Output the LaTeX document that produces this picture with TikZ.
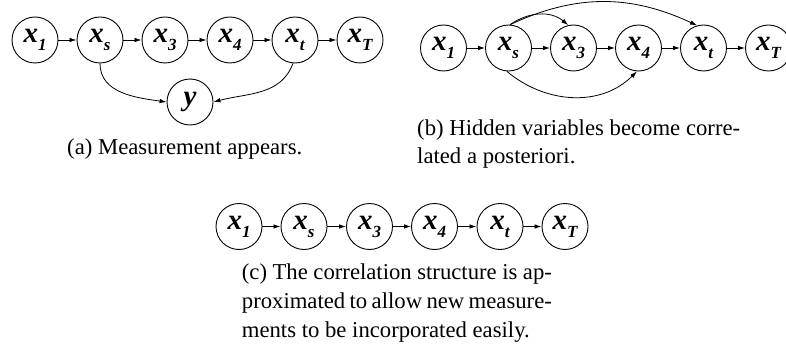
\documentclass[tikz,border=0pt]{standalone}
\usepackage{fontspec}
\setmainfont{Liberation Serif}
\usetikzlibrary{arrows.meta}
\newcommand{\vlab}[2]{{\fontsize{29}{29}\selectfont\bfseries\itshape #1}\raisebox{-8pt}{\fontsize{17}{17}\selectfont\bfseries\itshape #2}}
\newcommand{\ylab}{{\fontsize{29}{29}\selectfont\bfseries\itshape y}}
\newcommand{\capfont}{\fontsize{22.7}{28}\selectfont}
\begin{document}
\begin{tikzpicture}[x=1pt,y=1pt,
  var/.style={circle,draw,line width=0.9pt,minimum size=46pt,inner sep=0pt},
  arr/.style={-{Latex[length=7pt,width=4.5pt]},line width=0.8pt},
  captxt/.style={anchor=base west,inner sep=0pt,font=\capfont}]
\useasboundingbox (0,0) rectangle (786,343);
% (a)
\node[var] (a1) at (35,303) {\vlab{x}{1}};
\node[var] (as) at (100,303) {\vlab{x}{s}};
\node[var] (a3) at (165,303) {\vlab{x}{3}};
\node[var] (a4) at (230,303) {\vlab{x}{4}};
\node[var] (at) at (295,303) {\vlab{x}{t}};
\node[var] (aT) at (360,303) {\vlab{x}{T}};
\node[var] (ay) at (190,241) {\ylab};
\draw[arr] (a1) -- (as);
\draw[arr] (as) -- (a3);
\draw[arr] (a3) -- (a4);
\draw[arr] (a4) -- (at);
\draw[arr] (at) -- (aT);
\draw[arr] (as.south) to[out=-90,in=172] (ay.west);
\draw[arr] (at.-95) to[out=-110,in=15] (ay.east);
\node[captxt] (capa) at (67,189) {(a) Measurement appears.};
% (b)
\node[var] (b1) at (443.5,295) {\vlab{x}{1}};
\node[var] (bs) at (508.5,295) {\vlab{x}{s}};
\node[var] (b3) at (573.5,295) {\vlab{x}{3}};
\node[var] (b4) at (638.5,295) {\vlab{x}{4}};
\node[var] (bt) at (703.5,295) {\vlab{x}{t}};
\node[var] (bT) at (768.5,295) {\vlab{x}{T}};
\draw[arr] (b1) -- (bs);
\draw[arr] (bs) -- (b3);
\draw[arr] (b3) -- (b4);
\draw[arr] (b4) -- (bt);
\draw[arr] (bt) -- (bT);
\draw[arr] (bs.86) to[out=35,in=140] (b3.103);
\draw[arr] (bs.86) to[out=25,in=155] (bt.106);
\draw[arr] (bs.-94) to[out=-40,in=-135] (b4.-94);
\node[captxt] (capb1) at (417,207) {\makebox[323pt][s]{(b) Hidden variables become corre-}};
\node[captxt] (capb2) at (417,179) {lated a posteriori.};
% (c)
\node[var] (c1) at (239,116.5) {\vlab{x}{1}};
\node[var] (cs) at (304,116.5) {\vlab{x}{s}};
\node[var] (c3) at (369.5,116.5) {\vlab{x}{3}};
\node[var] (c4) at (434.5,116.5) {\vlab{x}{4}};
\node[var] (ct) at (500,116.5) {\vlab{x}{t}};
\node[var] (cT) at (565,116.5) {\vlab{x}{T}};
\draw[arr] (c1) -- (cs);
\draw[arr] (cs) -- (c3);
\draw[arr] (c3) -- (c4);
\draw[arr] (c4) -- (ct);
\draw[arr] (ct) -- (cT);
\node[captxt] (capc1) at (241.7,63.5) {\makebox[310pt][s]{(c) The correlation structure is ap-}};
\node[captxt] (capc2) at (241.7,34.5) {\makebox[310pt][s]{proximated to allow new measure-}};
\node[captxt] (capc3) at (241.7,6) {ments to be incorporated easily.};
\end{tikzpicture}
\end{document}
